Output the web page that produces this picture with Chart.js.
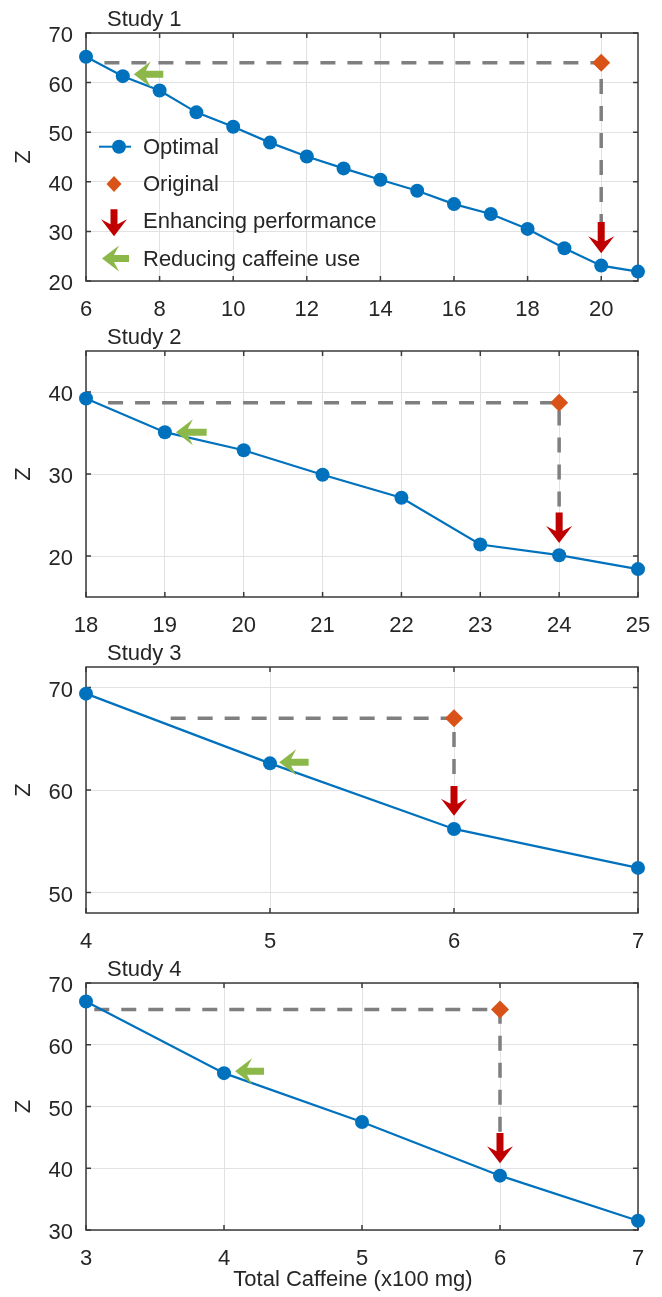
<!DOCTYPE html>
<html>
<head>
<meta charset="utf-8">
<script src="https://cdn.jsdelivr.net/npm/chart.js@4.4.1/dist/chart.umd.min.js"></script>
<style>
  body { margin: 0; background: #fff; }
  #wrap { position: relative; width: 662px; height: 1297px; }
  canvas { position: absolute; left: 0; }
</style>
</head>
<body>
<div id="wrap">
  <canvas id="study1" width="662" height="316" style="top:5px"></canvas>
  <canvas id="study2" width="662" height="314" style="top:323px"></canvas>
  <canvas id="study3" width="662" height="314" style="top:639px"></canvas>
  <canvas id="study4" width="662" height="341" style="top:955px"></canvas>
</div>
<script>
// Study 1
const study1Caffeine = [6, 7, 8, 9, 10, 11, 12, 13, 14, 15, 16, 17, 18, 19, 20, 21];
const study1Z = [65.2, 61.3, 58.4, 54.0, 51.1, 47.9, 45.1, 42.7, 40.4, 38.2, 35.5, 33.5, 30.5, 26.6, 23.1, 21.9];
const study1Original = [20, 64.0];
const study1DashStart = 6.5;
const study1Down = [20, 31.9, 25.6];
const study1Left = [61.7, 8.1, 7.3];
const study1XRange = [6, 21];
const study1XTicks = [6, 8, 10, 12, 14, 16, 18, 20];
const study1YRange = [20, 70];
const study1YTicks = [20, 30, 40, 50, 60, 70];

// Study 2
const study2Caffeine = [18, 19, 20, 21, 22, 23, 24, 25];
const study2Z = [39.2, 35.1, 32.9, 29.9, 27.1, 21.4, 20.1, 18.4];
const study2Original = [24, 38.7];
const study2DashStart = 18.28;
const study2Down = [24, 25.3, 21.6];
const study2Left = [35.1, 19.53, 19.14];
const study2XRange = [18, 25];
const study2XTicks = [18, 19, 20, 21, 22, 23, 24, 25];
const study2YRange = [15, 45];
const study2YTicks = [20, 30, 40];

// Study 3
const study3Caffeine = [4, 5, 6, 7];
const study3Z = [69.4, 62.6, 56.2, 52.4];
const study3Original = [6, 67.0];
const study3DashStart = 4.46;
const study3Down = [6, 60.4, 57.5];
const study3Left = [62.7, 5.21, 5.05];
const study3XRange = [4, 7];
const study3XTicks = [4, 5, 6, 7];
const study3YRange = [48, 72];
const study3YTicks = [50, 60, 70];

// Study 4
const study4Caffeine = [3, 4, 5, 6, 7];
const study4Z = [67.0, 55.4, 47.5, 38.8, 31.5];
const study4Original = [6, 65.7];
const study4DashStart = 3.06;
const study4Down = [6, 45.7, 40.8];
const study4Left = [55.7, 4.29, 4.08];
const study4XRange = [3, 7];
const study4XTicks = [3, 4, 5, 6, 7];
const study4YRange = [30, 70];
const study4YTicks = [30, 40, 50, 60, 70];

const legendLabels = ["Optimal", "Original", "Enhancing performance", "Reducing caffeine use"];
const xTitle = "Total Caffeine (x100 mg)";

const BLUE = "#0072BD";
const ORANGE = "#D95319";
const RED = "#C00000";
const GREEN = "#8BB849";
const GUIDE = "#7F7F7F";
const TEXT = "#262626";
const FONT = "'Liberation Sans', Arial, sans-serif";

Chart.defaults.font.family = FONT;
Chart.defaults.font.size = 22;
Chart.defaults.color = TEXT;

function drawArrow(ctx, x0, y0, x1, y1, color) {
  const dx = x1 - x0, dy = y1 - y0;
  const len = Math.hypot(dx, dy);
  const ux = dx / len, uy = dy / len;
  const px = -uy, py = ux;
  const head = 17, hw = 13, sw = 3.5, notch = 5;
  const bx = x1 - ux * head, by = y1 - uy * head;
  const nx = x1 - ux * (head - notch), ny = y1 - uy * (head - notch);
  ctx.save();
  ctx.fillStyle = color;
  ctx.beginPath();
  ctx.moveTo(x0 + px * sw, y0 + py * sw);
  ctx.lineTo(nx + px * sw, ny + py * sw);
  ctx.lineTo(bx + px * hw, by + py * hw);
  ctx.lineTo(x1, y1);
  ctx.lineTo(bx - px * hw, by - py * hw);
  ctx.lineTo(nx - px * sw, ny - py * sw);
  ctx.lineTo(x0 - px * sw, y0 - py * sw);
  ctx.closePath();
  ctx.fill();
  ctx.restore();
}

// axes box with inward ticks, like the original figure
const framePlugin = {
  id: "frame",
  beforeDatasetsDraw(chart) {
    const { ctx, chartArea: a, scales } = chart;
    ctx.save();
    ctx.strokeStyle = "#3a3a3a";
    ctx.lineWidth = 1.5;
    ctx.strokeRect(a.left, a.top, a.right - a.left, a.bottom - a.top);
    ctx.beginPath();
    scales.x.ticks.forEach(t => {
      const px = scales.x.getPixelForValue(t.value);
      ctx.moveTo(px, a.bottom); ctx.lineTo(px, a.bottom - 5);
      ctx.moveTo(px, a.top); ctx.lineTo(px, a.top + 5);
    });
    scales.y.ticks.forEach(t => {
      const py = scales.y.getPixelForValue(t.value);
      ctx.moveTo(a.left, py); ctx.lineTo(a.left + 5, py);
      ctx.moveTo(a.right, py); ctx.lineTo(a.right - 5, py);
    });
    ctx.stroke();
    ctx.restore();
  }
};

const marksPlugin = {
  id: "marks",
  afterDatasetsDraw(chart, args, opts) {
    const { ctx, chartArea: a, scales } = chart;
    const x = scales.x, y = scales.y;
    // red arrow: caffeine, from Z, to Z
    drawArrow(ctx, x.getPixelForValue(opts.down[0]), y.getPixelForValue(opts.down[1]),
      x.getPixelForValue(opts.down[0]), y.getPixelForValue(opts.down[2]), RED);
    // green arrow: Z, from caffeine, to caffeine
    drawArrow(ctx, x.getPixelForValue(opts.left[1]), y.getPixelForValue(opts.left[0]),
      x.getPixelForValue(opts.left[2]), y.getPixelForValue(opts.left[0]), GREEN);

    ctx.save();
    ctx.fillStyle = TEXT;
    ctx.font = "22px " + FONT;
    ctx.textBaseline = "alphabetic";
    ctx.textAlign = "left";
    ctx.fillText(opts.title, a.left + 21, a.top - 7);

    if (opts.xTitle) {
      ctx.textAlign = "center";
      ctx.fillText(opts.xTitle, (a.left + a.right) / 2 - 9, a.bottom + 56);
    }

    if (opts.legend) {
      const L = a.left;
      const rows = [0, 1, 2, 3].map(i => a.top + 113.7 + i * 37.3);
      ctx.strokeStyle = BLUE;
      ctx.lineWidth = 2;
      ctx.beginPath();
      ctx.moveTo(L + 13, rows[0]); ctx.lineTo(L + 45, rows[0]);
      ctx.stroke();
      ctx.fillStyle = BLUE;
      ctx.beginPath();
      ctx.arc(L + 33, rows[0], 7, 0, Math.PI * 2);
      ctx.fill();
      ctx.fillStyle = ORANGE;
      ctx.beginPath();
      ctx.moveTo(L + 28, rows[1] - 8); ctx.lineTo(L + 35.5, rows[1]);
      ctx.lineTo(L + 28, rows[1] + 8); ctx.lineTo(L + 20.5, rows[1]);
      ctx.closePath();
      ctx.fill();
      drawArrow(ctx, L + 28, rows[2] - 12, L + 28, rows[2] + 15, RED);
      drawArrow(ctx, L + 43, rows[3], L + 16, rows[3], GREEN);
      ctx.fillStyle = TEXT;
      ctx.textAlign = "left";
      ctx.textBaseline = "middle";
      legendLabels.forEach((t, i) => ctx.fillText(t, L + 57, rows[i] + 1));
    }
    ctx.restore();
  }
};

function makeStudy(id, s) {
  const optimal = s.caffeine.map((c, i) => ({ x: c, y: s.z[i] }));
  const guide = [
    { x: s.dashStart, y: s.original[1] },
    { x: s.original[0], y: s.original[1] },
    { x: s.original[0], y: s.down[1] }
  ];
  return new Chart(document.getElementById(id), {
    type: "scatter",
    data: {
      datasets: [
        {
          label: "Original",
          data: [{ x: s.original[0], y: s.original[1] }],
          pointStyle: "rectRot",
          pointRadius: 9,
          pointBackgroundColor: ORANGE,
          pointBorderWidth: 0,
          clip: false,
          order: 0
        },
        {
          label: "Optimal",
          data: optimal,
          showLine: true,
          borderColor: BLUE,
          borderWidth: 2.2,
          pointRadius: 7,
          pointBackgroundColor: BLUE,
          pointBorderWidth: 0,
          clip: false,
          order: 1
        },
        {
          label: "guide",
          data: guide,
          showLine: true,
          borderColor: GUIDE,
          borderWidth: 3.5,
          borderDash: [15, 12],
          pointRadius: 0,
          clip: false,
          order: 2
        }
      ]
    },
    options: {
      responsive: false,
      animation: false,
      devicePixelRatio: 1,
      layout: { padding: { top: 28, right: 24, left: 0, bottom: 0 } },
      plugins: {
        legend: { display: false },
        tooltip: { enabled: false },
        marks: {
          title: s.title,
          down: s.down,
          left: s.left,
          legend: s.legend || false,
          xTitle: s.xTitle || null
        }
      },
      scales: {
        x: {
          type: "linear",
          min: s.xRange[0],
          max: s.xRange[1],
          afterBuildTicks: sc => { sc.ticks = s.xTicks.map(v => ({ value: v })); },
          afterFit: sc => { sc.height = s.xHeight; sc.paddingLeft = 0; sc.paddingRight = 0; },
          grid: { color: "#e2e2e2", lineWidth: 1, drawTicks: false },
          border: { display: false },
          ticks: { padding: 16, maxRotation: 0, autoSkip: false, color: TEXT }
        },
        y: {
          type: "linear",
          min: s.yRange[0],
          max: s.yRange[1],
          afterBuildTicks: sc => { sc.ticks = s.yTicks.map(v => ({ value: v })); },
          afterFit: sc => { sc.width = 86; sc.paddingTop = 0; sc.paddingBottom = 0; },
          grid: { color: "#e2e2e2", lineWidth: 1, drawTicks: false },
          border: { display: false },
          ticks: { padding: 13, labelOffset: 3, color: TEXT },
          title: { display: true, text: "Z", padding: { top: 11, bottom: 0 }, color: TEXT }
        }
      }
    },
    plugins: [framePlugin, marksPlugin]
  });
}

makeStudy("study1", {
  title: "Study 1", caffeine: study1Caffeine, z: study1Z, original: study1Original,
  dashStart: study1DashStart, down: study1Down, left: study1Left,
  xRange: study1XRange, xTicks: study1XTicks, yRange: study1YRange, yTicks: study1YTicks,
  xHeight: 40, legend: true
});
makeStudy("study2", {
  title: "Study 2", caffeine: study2Caffeine, z: study2Z, original: study2Original,
  dashStart: study2DashStart, down: study2Down, left: study2Left,
  xRange: study2XRange, xTicks: study2XTicks, yRange: study2YRange, yTicks: study2YTicks,
  xHeight: 40
});
makeStudy("study3", {
  title: "Study 3", caffeine: study3Caffeine, z: study3Z, original: study3Original,
  dashStart: study3DashStart, down: study3Down, left: study3Left,
  xRange: study3XRange, xTicks: study3XTicks, yRange: study3YRange, yTicks: study3YTicks,
  xHeight: 40
});
makeStudy("study4", {
  title: "Study 4", caffeine: study4Caffeine, z: study4Z, original: study4Original,
  dashStart: study4DashStart, down: study4Down, left: study4Left,
  xRange: study4XRange, xTicks: study4XTicks, yRange: study4YRange, yTicks: study4YTicks,
  xHeight: 66, xTitle: xTitle
});
</script>
</body>
</html>
